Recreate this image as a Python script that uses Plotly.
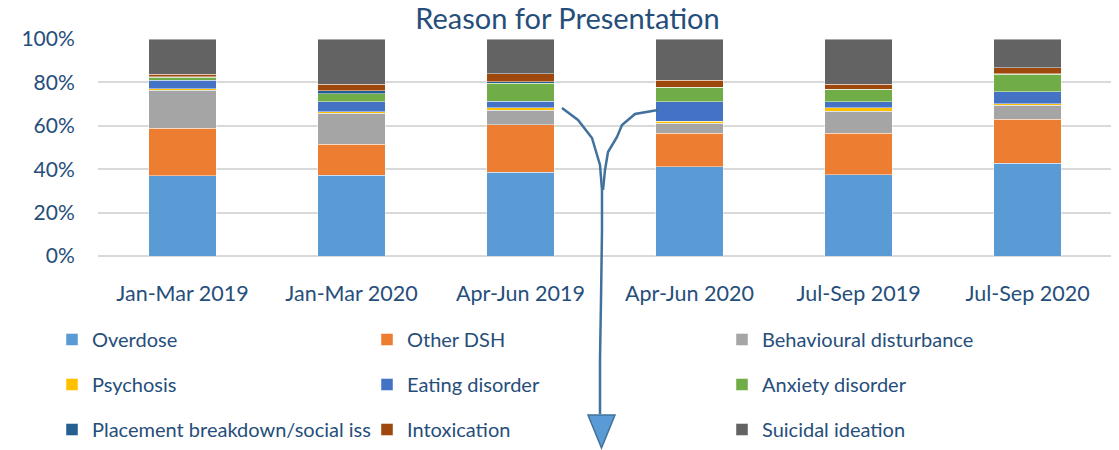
import plotly.graph_objects as go

categories = ["Jan-Mar 2019", "Jan-Mar 2020", "Apr-Jun 2019", "Apr-Jun 2020", "Jul-Sep 2019", "Jul-Sep 2020"]

overdose = [36.9, 37.2, 38.6, 41.1, 37.5, 42.8]
other_dsh = [21.9, 14.2, 22.0, 15.5, 19.1, 20.3]
behavioural = [17.5, 14.4, 6.5, 4.6, 10.2, 6.4]
psychosis = [0.8, 0.6, 1.2, 0.8, 1.5, 0.7]
eating = [3.8, 4.7, 3.1, 9.1, 2.9, 5.6]
anxiety = [1.4, 3.6, 8.3, 6.6, 5.6, 7.9]
placement = [0.3, 1.4, 0.5, 0.1, 0.1, 0.3]
intoxication = [1.2, 3.0, 3.8, 3.2, 2.3, 2.8]
suicidal = [16.2, 20.9, 16.0, 19.0, 20.8, 13.2]

series = [
    ("Overdose", overdose, "#5B9BD5", "legend"),
    ("Other DSH", other_dsh, "#ED7D31", "legend2"),
    ("Behavioural disturbance", behavioural, "#A5A5A5", "legend3"),
    ("Psychosis", psychosis, "#FFC000", "legend"),
    ("Eating disorder", eating, "#4472C4", "legend2"),
    ("Anxiety disorder", anxiety, "#70AD47", "legend3"),
    ("Placement breakdown/social iss", placement, "#255E91", "legend"),
    ("Intoxication", intoxication, "#9E480E", "legend2"),
    ("Suicidal ideation", suicidal, "#636363", "legend3"),
]

TXT = "#264E7A"
FONT = "Lato"

fig = go.Figure()
for name, vals, color, lg in series:
    fig.add_trace(go.Bar(
        x=categories, y=vals, name=name, legend=lg, legendgroup=name,
        marker=dict(color=color, line=dict(color="rgba(255,255,255,0.45)", width=1)),
    ))

W, H = 1119, 450
L, T = 90, 31
PW, PH = 1014, 217
R = W - L - PW
B = H - T - PH

# on-screen plot-area bounds (page has an 8px body offset)
SX0, SY0 = L + 8, T + 8

def px(x):
    return (x - SX0) / PW

def py(y):
    return (SY0 + PH - y) / PH

arrow_pts = [
    (562, 108), (578, 120), (592, 138), (600, 165), (602, 190), (602, 230),
    (601, 300), (600, 360), (600, 414),
]
right_pts = [(658, 110), (635, 114), (622, 125), (617, 137), (608, 152), (605, 170), (603, 190)]

def path_of(pts):
    return "M " + " L ".join(f"{px(a):.5f},{py(b):.5f}" for a, b in pts)

fig.add_shape(type="path", xref="paper", yref="paper", path=path_of(arrow_pts),
              line=dict(color="#41719C", width=2.5))
fig.add_shape(type="path", xref="paper", yref="paper", path=path_of(right_pts),
              line=dict(color="#41719C", width=2.5))
tri = [(588, 415), (615, 415), (601.5, 448)]
fig.add_shape(type="path", xref="paper", yref="paper", path=path_of(tri) + " Z",
              fillcolor="#5B9BD5", line=dict(color="#41719C", width=1.5))

legend_common = dict(
    orientation="v", xref="container", yref="container", yanchor="top", xanchor="left",
    font=dict(family=FONT, size=20, color=TXT), tracegroupgap=16, traceorder="grouped",
    bgcolor="rgba(0,0,0,0)", itemclick=False, itemdoubleclick=False,
)

fig.update_layout(
    width=W, height=H,
    margin=dict(l=L, r=R, t=T, b=B, autoexpand=False),
    paper_bgcolor="white", plot_bgcolor="white",
    barmode="stack", bargap=0.6,
    font=dict(family=FONT, color=TXT),
    title=dict(text="Reason for Presentation", x=0.5, xref="container", xanchor="center",
               y=1 - 11 / H, yanchor="middle",
               font=dict(family=FONT, size=29, color=TXT)),
    xaxis=dict(showgrid=False, showline=False, ticks="outside", ticklen=18, tickangle=0,
               tickcolor="rgba(0,0,0,0)", tickfont=dict(family=FONT, size=21.5, color=TXT)),
    yaxis=dict(range=[0, 100], dtick=20, ticksuffix="%", showgrid=True,
               gridcolor="#D9D9D9", gridwidth=1.5, zeroline=True, zerolinecolor="#D9D9D9",
               zerolinewidth=1.5, ticks="outside", ticklen=18, tickcolor="rgba(0,0,0,0)",
               tickfont=dict(family=FONT, size=21, color=TXT)),
    legend=dict(x=44 / W, y=1 - 312 / H, **legend_common),
    legend2=dict(x=359 / W, y=1 - 312 / H, **legend_common),
    legend3=dict(x=714 / W, y=1 - 312 / H, **legend_common),
    showlegend=True,
)

fig.write_html("out.html")
